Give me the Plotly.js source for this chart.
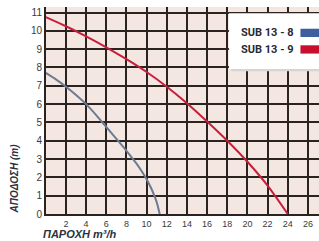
<!DOCTYPE html>
<html><head><meta charset="utf-8">
<script src="https://cdn.plot.ly/plotly-3.0.1.min.js"></script>
<style>html,body{margin:0;padding:0;background:#fff}#chart{width:319px;height:241px}</style>
</head><body><div id="chart"></div>
<script>
const seriesNames = ["SUB 13 - 8", "SUB 13 - 9"];
const flow8 = [0, 1, 2, 3, 4, 5, 6, 7, 8, 9, 9.5, 10, 10.5, 11, 11.3];
const head8 = [7.7, 7.35, 6.95, 6.5, 6.0, 5.4, 4.75, 4.1, 3.45, 2.75, 2.35, 1.9, 1.35, 0.65, 0];
const flow9 = [0, 2, 4, 6, 8, 10, 12, 14, 16, 18, 20, 22, 24];
const head9 = [10.75, 10.25, 9.7, 9.1, 8.45, 7.75, 6.95, 6.05, 5.05, 4.0, 2.85, 1.55, 0];
const colors = ["#6b7b92", "#c81e3c"];
const swatch = ["#3d5f9e", "#c8102e"];

const traces = [
  {x: flow8, y: head8, mode: "lines", line: {color: colors[0], width: 2, shape: "spline", smoothing: 0.6}, name: seriesNames[0], showlegend: false},
  {x: flow9, y: head9, mode: "lines", line: {color: colors[1], width: 2, shape: "spline", smoothing: 0.8}, name: seriesNames[1], showlegend: false}
];
const gridCol = "#2a2320";
const tickFont = {family: "Liberation Sans, Arial, sans-serif", size: 9, color: "#3a3a3a"};
const layout = {
  width: 319, height: 241,
  margin: {l: 46, r: 0, t: 7, b: 27},
  paper_bgcolor: "#ffffff", plot_bgcolor: "#f4e7e1",
  xaxis: {range: [0.02, 27.1], tickmode: "linear", tick0: 0, dtick: 2, showgrid: true, gridcolor: gridCol, gridwidth: 2,
          zeroline: false, showline: true, linecolor: gridCol, linewidth: 2, tickfont: tickFont, ticklabelstandoff: 0},
  yaxis: {range: [0, 11.3], tickmode: "linear", tick0: 0, dtick: 1, showgrid: true, gridcolor: gridCol, gridwidth: 2,
          zeroline: false, showline: true, linecolor: gridCol, linewidth: 2, tickfont: Object.assign({}, tickFont, {size: 10})},
  shapes: [
    {type: "rect", xref: "paper", yref: "paper", x0: 0.678, x1: 1.02, y0: 0.69, y1: 0.955, fillcolor: "#d9d4d0", line: {width: 0}, layer: "above"},
    {type: "rect", xref: "paper", yref: "paper", x0: 0.67, x1: 1.02, y0: 0.70, y1: 0.97, fillcolor: "#ffffff", line: {width: 0}, layer: "above"},
    {type: "rect", xref: "paper", yref: "paper", x0: 0.932, x1: 1.0, y0: 0.855, y1: 0.895, fillcolor: swatch[0], line: {width: 0}, layer: "above"},
    {type: "rect", xref: "paper", yref: "paper", x0: 0.932, x1: 1.0, y0: 0.775, y1: 0.815, fillcolor: swatch[1], line: {width: 0}, layer: "above"}
  ],
  annotations: [
    {xref: "paper", yref: "paper", x: 0.915, y: 0.875, xanchor: "right", yanchor: "middle", text: "<b>" + seriesNames[0] + "</b>", showarrow: false,
     font: {family: "Roboto, sans-serif", size: 11, color: "#2a2a35"}},
    {xref: "paper", yref: "paper", x: 0.915, y: 0.795, xanchor: "right", yanchor: "middle", text: "<b>" + seriesNames[1] + "</b>", showarrow: false,
     font: {family: "Roboto, sans-serif", size: 11, color: "#2a2a35"}},
    {xref: "paper", yref: "paper", x: -0.115, y: 0.17, xanchor: "center", yanchor: "middle", textangle: -90, text: "<b><i>ΑΠΟΔΟΣΗ (m)</i></b>", showarrow: false,
     font: {family: "Liberation Sans, Arial, sans-serif", size: 10, color: "#2c3140"}},
    {xref: "paper", yref: "paper", x: -0.015, y: -0.1304, xanchor: "left", yanchor: "bottom", borderpad: 0, text: "<b><i>ΠΑΡΟΧΗ m³/h</i></b>", showarrow: false,
     font: {family: "Liberation Sans, Arial, sans-serif", size: 11, color: "#2c3140"}}
  ],
  showlegend: false
};
Plotly.newPlot("chart", traces, layout, {staticPlot: true, displayModeBar: false});
</script></body></html>
